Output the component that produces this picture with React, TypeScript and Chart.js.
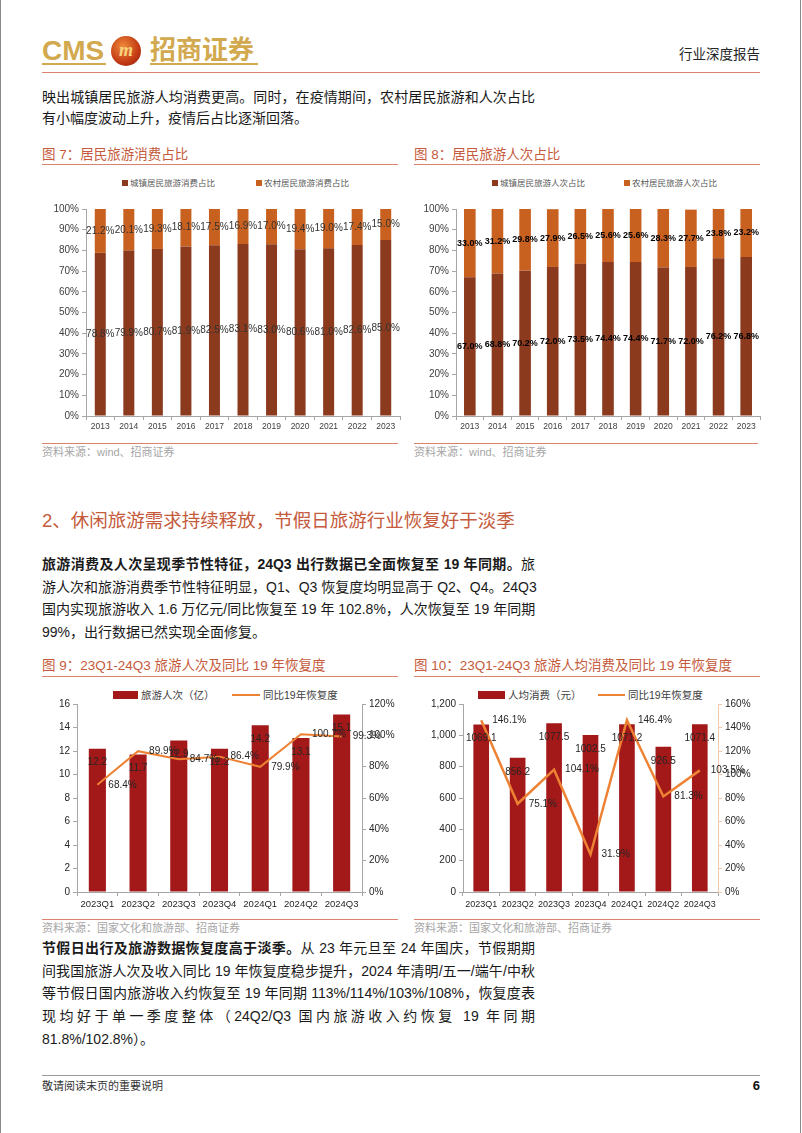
import React, { useEffect, useRef } from 'react';
import { Chart, registerables } from 'chart.js';
Chart.register(...registerables);

Chart.defaults.font.family = '"Liberation Sans", Arial, sans-serif';
Chart.defaults.color = '#404040';

// ---------- data ----------
const years = ['2013', '2014', '2015', '2016', '2017', '2018', '2019', '2020', '2021', '2022', '2023'];
const urbanSpendShare = [78.8, 79.9, 80.7, 81.9, 82.5, 83.1, 83.0, 80.6, 81.0, 82.6, 85.0];
const ruralSpendShare = [21.2, 20.1, 19.3, 18.1, 17.5, 16.9, 17.0, 19.4, 19.0, 17.4, 15.0];
const urbanTripShare = [67.0, 68.8, 70.2, 72.0, 73.5, 74.4, 74.4, 71.7, 72.0, 76.2, 76.8];
const ruralTripShare = [33.0, 31.2, 29.8, 27.9, 26.5, 25.6, 25.6, 28.3, 27.7, 23.8, 23.2];

const quarters = ['2023Q1', '2023Q2', '2023Q3', '2023Q4', '2024Q1', '2024Q2', '2024Q3'];
const tripsBillion = [12.2, 11.7, 12.9, 12.2, 14.2, 13.1, 15.1];
const tripsRecovery = [68.4, 89.9, 84.7, 86.4, 79.9, 100.7, 99.3];
const spendPerTrip = [1069.1, 856.2, 1077.5, 1002.5, 1071.2, 926.5, 1071.4];
const spendRecovery = [146.1, 75.1, 104.1, 31.9, 146.4, 81.3, 103.5];

// ---------- styles ----------
const AXIS = '#a6a6a6';
const URBAN = '#8B3A1E';
const RURAL = '#C8611F';
const BAR = '#A31818';
const LINE = '#EE8234';
const TITLE = '#C55A3C';
const RULE = '#D9826F';
const CJK = '"Liberation Sans", "Noto Sans CJK SC", sans-serif';

function makeLabelPlugin(items: any[]) {
  return {
    id: 'valueLabels',
    afterDatasetsDraw(chart: any) {
      const ctx = chart.ctx;
      items.forEach((cfg) => {
        const meta = chart.getDatasetMeta(cfg.dataset);
        const values = chart.data.datasets[cfg.dataset].data;
        ctx.save();
        ctx.font = cfg.font;
        ctx.fillStyle = cfg.color;
        ctx.textBaseline = 'middle';
        meta.data.forEach((el: any, i: number) => {
          const p = el.getProps(['x', 'y', 'base'], true);
          let x = p.x;
          let y = p.y;
          if (cfg.position === 'center') {
            y = (p.y + p.base) / 2;
            ctx.textAlign = 'center';
          } else if (cfg.position === 'insideEnd') {
            y = p.y + cfg.offset;
            ctx.textAlign = 'center';
          } else {
            x = p.x + cfg.offset;
            ctx.textAlign = 'left';
          }
          ctx.fillText(cfg.format(values[i]), x, y);
        });
        ctx.restore();
      });
    },
  };
}

function stackedConfig(urban: number[], rural: number[], names: string[], labelFont: string, labelColor: string, yWidth: number, barPct: number, rightPad: number) {
  return {
    type: 'bar',
    data: {
      labels: years,
      datasets: [
        { label: names[0], data: urban, backgroundColor: URBAN, barPercentage: barPct, categoryPercentage: 1 },
        { label: names[1], data: rural, backgroundColor: RURAL, barPercentage: barPct, categoryPercentage: 1 },
      ],
    },
    options: {
      responsive: false,
      animation: false,
      layout: { padding: { left: 0, right: rightPad, top: 8, bottom: 0 } },
      plugins: { legend: { display: false }, tooltip: { enabled: false } },
      scales: {
        x: {
          stacked: true,
          offset: true,
          grid: { offset: true, drawOnChartArea: false, drawTicks: true, tickLength: 4, color: AXIS },
          border: { color: AXIS },
          ticks: { font: { size: 8.5 }, color: '#404040', padding: 2, maxRotation: 0, autoSkip: false },
          afterFit: (s: any) => { s.height = 20; },
        },
        y: {
          stacked: true,
          min: 0,
          max: 100,
          ticks: { stepSize: 10, callback: (v: any) => v + '%', font: { size: 10 }, color: '#404040', padding: 3 },
          grid: { drawOnChartArea: false, tickLength: 4, color: AXIS },
          border: { color: AXIS },
          afterFit: (s: any) => { s.width = yWidth; },
        },
      },
    },
    plugins: [
      makeLabelPlugin([
        { dataset: 0, position: 'center', font: labelFont, color: labelColor, format: (v: number) => v.toFixed(1) + '%' },
        { dataset: 1, position: 'center', font: labelFont, color: labelColor, format: (v: number) => v.toFixed(1) + '%' },
      ]),
    ],
  };
}

function comboConfig(o: any) {
  return {
    type: 'bar',
    data: {
      labels: quarters,
      datasets: [
        { type: 'bar', label: o.barName, data: o.bars, backgroundColor: BAR, yAxisID: 'y', barPercentage: o.barPct, categoryPercentage: 1, order: 1 },
        { type: 'line', label: '同比19年恢复度', data: o.line, borderColor: LINE, borderWidth: o.lineWidth, pointRadius: 0, tension: 0, fill: false, yAxisID: 'y1', order: 0 },
      ],
    },
    options: {
      responsive: false,
      animation: false,
      layout: { padding: { left: 0, right: 0, top: 8, bottom: 0 } },
      plugins: { legend: { display: false }, tooltip: { enabled: false } },
      scales: {
        x: {
          offset: true,
          grid: { offset: true, drawOnChartArea: false, drawTicks: true, tickLength: 4, color: AXIS },
          border: { color: AXIS },
          ticks: { font: { size: o.xFont }, color: '#262626', padding: 3, maxRotation: 0, autoSkip: false },
          afterFit: (s: any) => { s.height = 22; },
        },
        y: {
          position: 'left',
          min: 0,
          max: o.leftMax,
          ticks: { stepSize: o.leftStep, callback: o.leftFmt, font: { size: 10 }, color: '#262626', padding: 3 },
          grid: { drawOnChartArea: false, tickLength: 4, color: AXIS },
          border: { color: AXIS },
          afterFit: (s: any) => { s.width = o.yWidth; },
        },
        y1: {
          position: 'right',
          min: 0,
          max: o.rightMax,
          ticks: { stepSize: 20, callback: (v: any) => v + '%', font: { size: 10 }, color: '#262626', padding: 3 },
          grid: { drawOnChartArea: false, tickLength: 4, color: o.rightColor },
          border: { color: o.rightColor },
          afterFit: (s: any) => { s.width = o.y1Width; },
        },
      },
    },
    plugins: [
      makeLabelPlugin([
        { dataset: 0, position: 'insideEnd', offset: 14, font: '10px "Liberation Sans"', color: '#262626', format: (v: number) => v.toFixed(1) },
        { dataset: 1, position: 'right', offset: 11, font: '10px "Liberation Sans"', color: '#262626', format: (v: number) => v.toFixed(1) + '%' },
      ]),
    ],
  };
}

function ChartCanvas({ left, top, width, height, make }: any) {
  const ref = useRef<HTMLCanvasElement | null>(null);
  useEffect(() => {
    const chart = new Chart(ref.current as HTMLCanvasElement, make());
    return () => chart.destroy();
  }, []);
  return <canvas ref={ref} width={width} height={height} style={{ position: 'absolute', left, top, width, height }} />;
}

function Txt({ x, y, size, color = '#1a1a1a', weight = 400, children, width, justify, right, family = CJK, lh }: any) {
  const lineH = lh || Math.round(size * 1.5);
  const style: any = {
    position: 'absolute',
    top: y - lineH / 2,
    height: lineH,
    lineHeight: lineH + 'px',
    fontSize: size,
    color,
    fontWeight: weight,
    fontFamily: family,
    whiteSpace: 'nowrap',
  };
  if (right !== undefined) {
    style.right = 802 - right;
    style.textAlign = 'right';
  } else {
    style.left = x;
  }
  if (width) style.width = width;
  if (justify) {
    style.textAlign = 'justify';
    style.textAlignLast = 'justify';
  }
  return <div style={style}>{children}</div>;
}

function HLine({ x1, x2, y, color, h = 1 }: any) {
  return <div style={{ position: 'absolute', left: x1, top: y, width: x2 - x1, height: h, background: color }} />;
}

function SquareLegend({ items, y }: any) {
  return (
    <>
      {items.map((it: any, i: number) => (
        <React.Fragment key={i}>
          <div style={{ position: 'absolute', left: it.x, top: y - 3, width: 6, height: 6, background: it.color }} />
          <Txt x={it.x + 8} y={y} size={8.5} color="#595959">{it.text}</Txt>
        </React.Fragment>
      ))}
    </>
  );
}

function ComboLegend({ y, boxX, boxW, barText, lineX, lineW, lineWidth }: any) {
  return (
    <>
      <div style={{ position: 'absolute', left: boxX, top: y - 4, width: boxW, height: 8, background: BAR }} />
      <Txt x={boxX + boxW + 3} y={y} size={10.5} color="#404040">{barText}</Txt>
      <div style={{ position: 'absolute', left: lineX, top: y - lineWidth / 2, width: lineW, height: lineWidth, background: LINE }} />
      <Txt x={lineX + lineW + 3} y={y} size={10.5} color="#404040">同比19年恢复度</Txt>
    </>
  );
}

export default function App() {
  const W = 493;
  return (
    <div style={{ position: 'absolute', left: 0, top: 0, width: 802, height: 1133, background: '#fff', overflow: 'hidden', fontFamily: CJK }}>
      {/* page edges */}
      <div style={{ position: 'absolute', left: 0, top: 0, width: 1, height: 1133, background: '#8a8a8a' }} />
      <div style={{ position: 'absolute', left: 800, top: 0, width: 1, height: 1133, background: '#8a8a8a' }} />

      {/* header */}
      <Txt x={42} y={51} size={28} weight={700} color="#D2A94F" family='"Liberation Sans", Arial, sans-serif' lh={30}>CMS</Txt>
      <div style={{ position: 'absolute', left: 111, top: 36, width: 30, height: 30, borderRadius: 15, background: 'radial-gradient(circle at 40% 35%, #F08A3A, #C23A14 60%, #8E1E0C)', color: '#F6D57E', fontWeight: 700, fontStyle: 'italic', fontSize: 18, lineHeight: '28px', textAlign: 'center', fontFamily: '"Liberation Serif", serif' }}>m</div>
      <Txt x={150} y={50} size={26} weight={700} color="#D2A94F" lh={32}>招商证券</Txt>
      <HLine x1={42} x2={106} y={63} color="#D2A94F" h={2} />
      <HLine x1={150} x2={258} y={63} color="#D2A94F" h={2} />
      <Txt right={760} y={55} size={13.5} color="#262626">行业深度报告</Txt>
      <HLine x1={42} x2={760} y={72} color={RULE} />

      {/* paragraph 1 */}
      <Txt x={42} y={97} size={14} width={W} justify>映出城镇居民旅游人均消费更高。同时，在疫情期间，农村居民旅游和人次占比</Txt>
      <Txt x={42} y={118} size={14}>有小幅度波动上升，疫情后占比逐渐回落。</Txt>

      {/* figure 7 / 8 titles */}
      <Txt x={42} y={155} size={13.5} color={TITLE}>图 7：居民旅游消费占比</Txt>
      <HLine x1={42} x2={398} y={164} color={RULE} />
      <Txt x={414} y={155} size={13.5} color={TITLE}>图 8：居民旅游人次占比</Txt>
      <HLine x1={414} x2={760} y={164} color={RULE} />

      <SquareLegend y={183} items={[{ x: 122, color: URBAN, text: '城镇居民旅游消费占比' }, { x: 256, color: RURAL, text: '农村居民旅游消费占比' }]} />
      <SquareLegend y={183} items={[{ x: 492, color: URBAN, text: '城镇居民旅游人次占比' }, { x: 624, color: RURAL, text: '农村居民旅游人次占比' }]} />

      <ChartCanvas left={42} top={200} width={362} height={236}
        make={() => stackedConfig(urbanSpendShare, ruralSpendShare, ['城镇居民旅游消费占比', '农村居民旅游消费占比'], '10px "Liberation Sans"', '#333333', 44, 0.385, 4)} />
      <ChartCanvas left={414} top={200} width={350} height={236}
        make={() => stackedConfig(urbanTripShare, ruralTripShare, ['城镇居民旅游人次占比', '农村居民旅游人次占比'], 'bold 9px "Liberation Sans"', '#000', 42, 0.42, 4)} />

      <HLine x1={42} x2={398} y={443} color={RULE} />
      <Txt x={42} y={452} size={11} color="#a6a6a6">资料来源：wind、招商证券</Txt>
      <HLine x1={414} x2={758} y={443} color={RULE} />
      <Txt x={414} y={452} size={11} color="#a6a6a6">资料来源：wind、招商证券</Txt>

      {/* section heading */}
      <Txt x={42} y={521} size={18.5} color={TITLE}>2、休闲旅游需求持续释放，节假日旅游行业恢复好于淡季</Txt>

      {/* paragraph 2 */}
      <Txt x={42} y={564} size={14} width={W} justify><b>旅游消费及人次呈现季节性特征，24Q3 出行数据已全面恢复至 19 年同期。</b>旅</Txt>
      <Txt x={42} y={587} size={14} width={W} justify>游人次和旅游消费季节性特征明显，Q1、Q3 恢复度均明显高于 Q2、Q4。24Q3</Txt>
      <Txt x={42} y={609} size={14} width={W} justify>国内实现旅游收入 1.6 万亿元/同比恢复至 19 年 102.8%，人次恢复至 19 年同期</Txt>
      <Txt x={42} y={632} size={14}>99%，出行数据已然实现全面修复。</Txt>

      {/* figure 9 / 10 titles */}
      <Txt x={42} y={666} size={13.5} color={TITLE}>图 9：23Q1-24Q3 旅游人次及同比 19 年恢复度</Txt>
      <HLine x1={42} x2={398} y={676} color={RULE} />
      <Txt x={414} y={666} size={13.5} color={TITLE}>图 10：23Q1-24Q3 旅游人均消费及同比 19 年恢复度</Txt>
      <HLine x1={414} x2={760} y={676} color={RULE} />

      <ComboLegend y={695} boxX={113} boxW={25} barText="旅游人次（亿）" lineX={232} lineW={28} lineWidth={2} />
      <ComboLegend y={695} boxX={478} boxW={27} barText="人均消费（元）" lineX={598} lineW={27} lineWidth={2.5} />

      <ChartCanvas left={42} top={695} width={362} height={219}
        make={() => comboConfig({
          barName: '旅游人次（亿）', bars: tripsBillion, line: tripsRecovery, barPct: 0.42, lineWidth: 2,
          leftMax: 16, leftStep: 2, leftFmt: (v: any) => String(v), rightMax: 120,
          yWidth: 35, y1Width: 42, xFont: 9.5, rightColor: AXIS,
        })} />
      <ChartCanvas left={414} top={695} width={350} height={219}
        make={() => comboConfig({
          barName: '人均消费（元）', bars: spendPerTrip, line: spendRecovery, barPct: 0.43, lineWidth: 2.5,
          leftMax: 1200, leftStep: 200, leftFmt: (v: any) => Number(v).toLocaleString('en-US'), rightMax: 160,
          yWidth: 49, y1Width: 46, xFont: 9, rightColor: '#F2C7AE',
        })} />

      <HLine x1={42} x2={398} y={919} color={RULE} />
      <Txt x={42} y={928} size={11} color="#a6a6a6">资料来源：国家文化和旅游部、招商证券</Txt>
      <HLine x1={414} x2={760} y={919} color={RULE} />
      <Txt x={414} y={928} size={11} color="#a6a6a6">资料来源：国家文化和旅游部、招商证券</Txt>

      {/* paragraph 3 */}
      <Txt x={42} y={948} size={14} width={W} justify><b>节假日出行及旅游数据恢复度高于淡季。</b>从 23 年元旦至 24 年国庆，节假期期</Txt>
      <Txt x={42} y={971} size={14} width={W} justify>间我国旅游人次及收入同比 19 年恢复度稳步提升，2024 年清明/五一/端午/中秋</Txt>
      <Txt x={42} y={993} size={14} width={W} justify>等节假日国内旅游收入约恢复至 19 年同期 113%/114%/103%/108%，恢复度表</Txt>
      <Txt x={42} y={1016} size={14} width={W} justify>现均好于单一季度整体（24Q2/Q3 国内旅游收入约恢复 19 年同期</Txt>
      <Txt x={42} y={1039} size={14}>81.8%/102.8%）。</Txt>

      {/* footer */}
      <HLine x1={42} x2={760} y={1075} color="#9a9a9a" />
      <Txt x={42} y={1086} size={11} color="#333">敬请阅读末页的重要说明</Txt>
      <Txt right={760} y={1086} size={13} weight={700} color="#111" family='"Liberation Sans", Arial, sans-serif'>6</Txt>
    </div>
  );
}
